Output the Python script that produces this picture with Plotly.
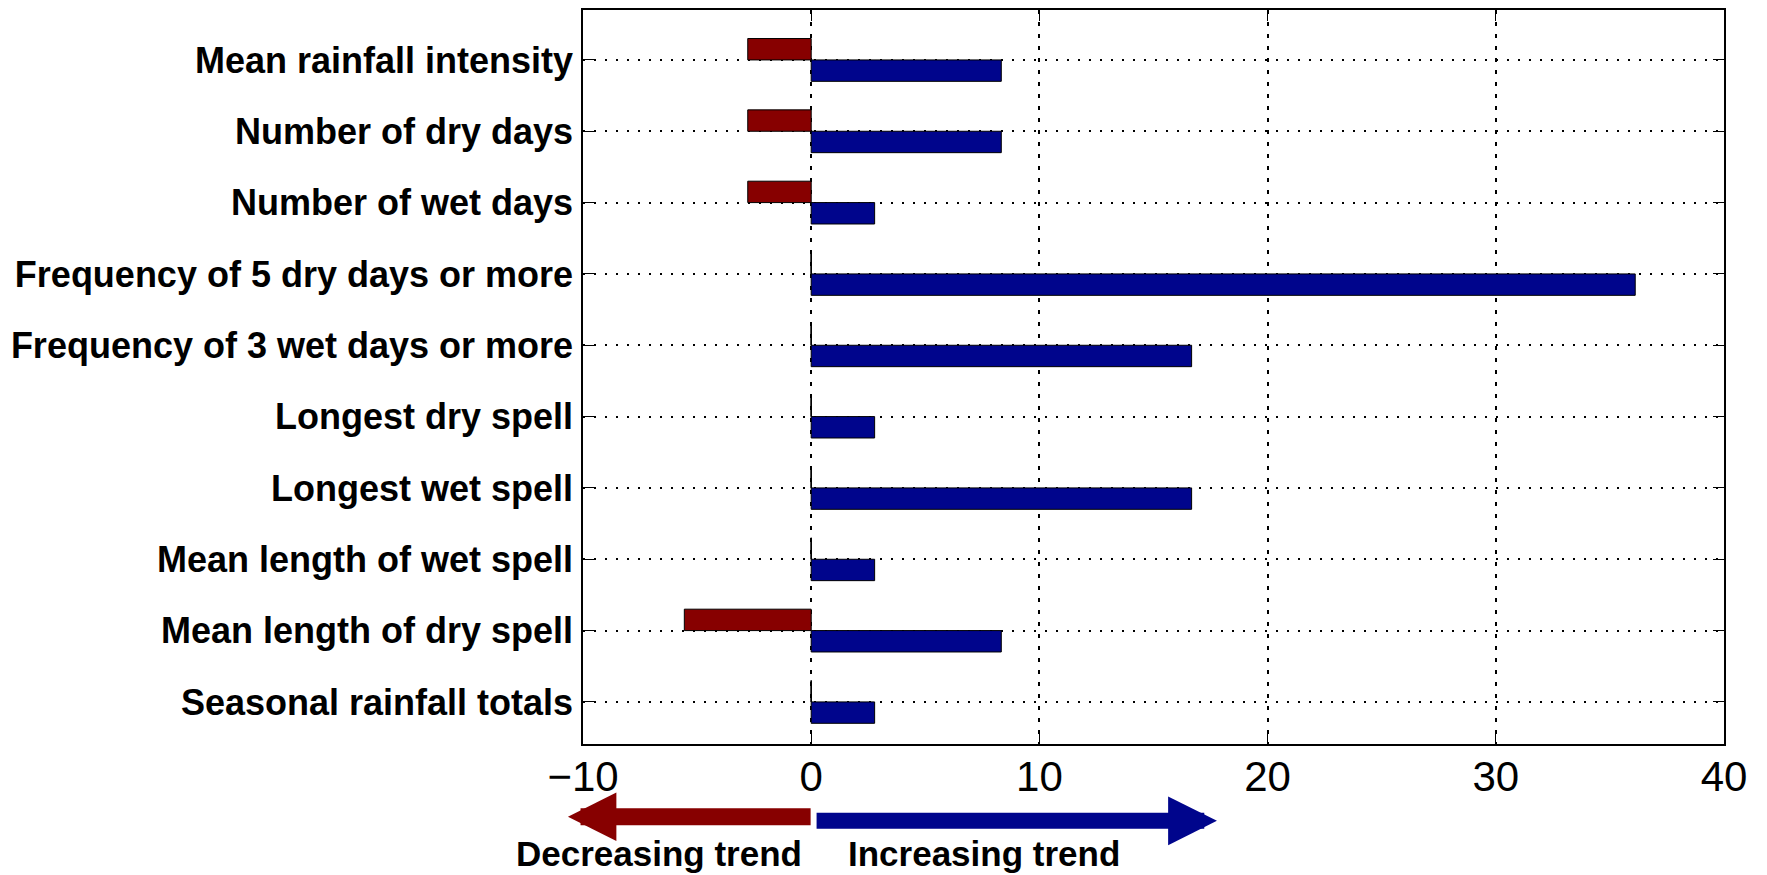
import plotly.graph_objects as go

# ---- data (percent of stations) ----
categories = [
    "Mean rainfall intensity",
    "Number of dry days",
    "Number of wet days",
    "Frequency of 5 dry days or more",
    "Frequency of 3 wet days or more",
    "Longest dry spell",
    "Longest wet spell",
    "Mean length of wet spell",
    "Mean length of dry spell",
    "Seasonal rainfall totals",
]
increasing = [8.33, 8.33, 2.78, 36.11, 16.67, 2.78, 16.67, 2.78, 8.33, 2.78]
decreasing = [-2.78, -2.78, -2.78, 0, 0, 0, 0, 0, -5.56, 0]
x_ticks = [-10, 0, 10, 20, 30, 40]

RED = "#870000"
BLUE = "#00058c"
FONT = "Liberation Sans, Arial, sans-serif"
BAR_W = 0.3

n = len(categories)
positions = [n - i for i in range(n)]

fig = go.Figure()
fig.add_trace(go.Bar(
    y=positions, x=decreasing, orientation="h",
    width=BAR_W, offset=0,
    marker=dict(color=RED, line=dict(color="black", width=1)),
    name="Decreasing", showlegend=False, hoverinfo="x+text", text=categories, textposition="none",
))
fig.add_trace(go.Bar(
    y=positions, x=increasing, orientation="h",
    width=BAR_W, offset=-BAR_W,
    marker=dict(color=BLUE, line=dict(color="black", width=1)),
    name="Increasing", showlegend=False, hoverinfo="x+text", text=categories, textposition="none",
))

# outline of zero-length bars (drawn as a thin edge at zero)
zx, zy = [], []
for p, v in zip(positions, decreasing):
    if v == 0:
        zx += [0, 0, None]
        zy += [p, p + BAR_W, None]
fig.add_trace(go.Scatter(x=zx, y=zy, mode="lines",
                         line=dict(color="black", width=1.2),
                         showlegend=False, hoverinfo="skip"))

# page has an 8px body margin; figure coordinates = page - 8
OFF = 8
W, H = 1767 - OFF, 875 - OFF
PLOT_LEFT, PLOT_RIGHT = 583 - OFF, 1724 - OFF
PLOT_TOP, PLOT_BOTTOM = 8 - OFF, 744 - OFF

def py(page_pix):
    return (PLOT_BOTTOM - (page_pix - OFF)) / (PLOT_BOTTOM - PLOT_TOP)

def px(page_pix):
    return ((page_pix - OFF) - PLOT_LEFT) / (PLOT_RIGHT - PLOT_LEFT)

annotations = [
    dict(x=-10.66, y=py(817), xref="x", yref="paper",
         ax=0.04, ay=0, axref="x", ayref="pixel",
         text="", showarrow=True, arrowhead=2, arrowwidth=17,
         arrowsize=0.57, arrowcolor=RED, standoff=0),
    dict(x=17.78, y=py(821), xref="x", yref="paper",
         ax=0.17, ay=0, axref="x", ayref="pixel",
         text="", showarrow=True, arrowhead=2, arrowwidth=16,
         arrowsize=0.61, arrowcolor=BLUE, standoff=0),
    dict(x=px(659), y=py(832), xref="paper", yref="paper",
         xanchor="center", yanchor="top", showarrow=False,
         text="Decreasing trend",
         font=dict(family=FONT, size=35, color="black", weight="bold")),
    dict(x=px(984), y=py(832), xref="paper", yref="paper",
         xanchor="center", yanchor="top", showarrow=False,
         text="Increasing trend",
         font=dict(family=FONT, size=35, color="black", weight="bold")),
]

fig.update_layout(
    width=W, height=H,
    margin=dict(l=PLOT_LEFT, r=W - PLOT_RIGHT, t=PLOT_TOP, b=H - PLOT_BOTTOM, pad=0),
    paper_bgcolor="white", plot_bgcolor="white",
    barmode="overlay",
    font=dict(family=FONT, color="black"),
    annotations=annotations,
    showlegend=False,
)
fig.update_xaxes(
    range=[-10, 40], tickmode="array", tickvals=x_ticks,
    ticks="inside", ticklen=11, tickwidth=1.2, tickcolor="black",
    showline=True, linecolor="black", linewidth=1.5, mirror="ticks",
    showgrid=True, gridcolor="black", gridwidth=1.5, griddash="4px,8px",
    zeroline=False,
    tickfont=dict(family=FONT, size=42, color="black"),
    ticklabelstandoff=-5,
)
fig.update_yaxes(
    range=[0.41, 10.70], tickmode="array", tickvals=positions, ticktext=categories,
    ticks="inside", ticklen=11, tickwidth=1.2, tickcolor="black",
    showline=True, linecolor="black", linewidth=1.5, mirror="ticks",
    showgrid=True, gridcolor="black", gridwidth=1.5, griddash="2px,9px",
    zeroline=False,
    tickfont=dict(family=FONT, size=36, color="black", weight="bold"),
    ticklabelstandoff=1,
)

fig.write_html("out.html")
